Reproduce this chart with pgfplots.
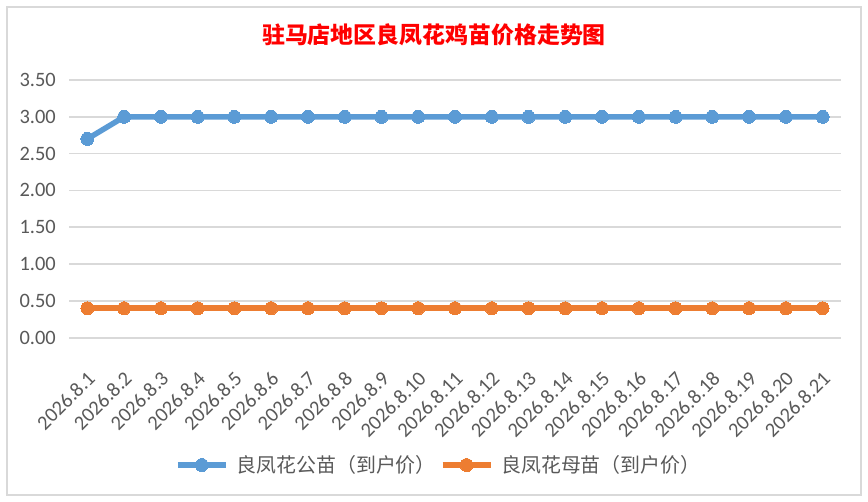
\documentclass[border=0pt]{standalone}
\usepackage{pgfplots}
\pgfplotsset{compat=1.18}
\usepackage{fontspec}
\setmainfont{Carlito}
\newfontfamily\cjk{Noto Sans CJK SC}
\definecolor{cblue}{HTML}{5B9BD5}
\definecolor{corange}{HTML}{ED7D31}
\definecolor{tgray}{HTML}{595959}
\definecolor{ggray}{HTML}{D9D9D9}
\begin{document}
\begin{tikzpicture}
\path[use as bounding box, fill=white] (0,0) rectangle (868bp,502bp);
\draw[ggray, line width=1.2bp] (7bp,7bp) rectangle (861bp,495bp);
\node[text=red, font={\cjk\bfseries\fontsize{23}{26}\selectfont}] at (434bp,467bp) {驻马店地区良凤花鸡苗价格走势图};
\begin{axis}[
  at={(69bp,164.3bp)}, anchor=south west,
  scale only axis, width=772bp, height=257.7bp,
  xmin=-0.5, xmax=20.5, ymin=0, ymax=3.5,
  ytick={0,0.5,...,3.5},
  xtick={0,...,20},
  xticklabels={2026.8.1,2026.8.2,2026.8.3,2026.8.4,2026.8.5,2026.8.6,2026.8.7,2026.8.8,2026.8.9,2026.8.10,2026.8.11,2026.8.12,2026.8.13,2026.8.14,2026.8.15,2026.8.16,2026.8.17,2026.8.18,2026.8.19,2026.8.20,2026.8.21},
  x tick label style={xshift=-1bp, yshift=-32bp, rotate=45, anchor=north east, inner sep=0bp},
  /pgf/number format/fixed, /pgf/number format/fixed zerofill, /pgf/number format/precision=2,
  /pgf/number format/assume math mode=true,
  yticklabel shift=13bp,
  y tick label style={inner sep=0bp, anchor=east},
  tick label style={font=\fontsize{20.5}{24}\selectfont, text=tgray},
  axis line style={draw=none},
  major tick length=0pt,
  ymajorgrids, grid style={ggray, line width=1.6bp},
  legend columns=2,
  legend style={at={(0.479,-0.494)}, anchor=center, draw=none, fill=none,
    font={\cjk\fontsize{20}{23}\selectfont}, text=tgray,
    /tikz/every even column/.append style={column sep=2bp},
    /tikz/every odd column/.append style={column sep=6bp}},
  legend image code/.code={\draw[mark repeat=2,mark phase=2] plot coordinates {(0bp,0bp)(24bp,0bp)(48bp,0bp)};},
]
\addplot[cblue, line width=5.5bp, mark=*, mark size=6.5bp, mark options={line width=0pt}] coordinates {
(0,2.7)(1,3)(2,3)(3,3)(4,3)(5,3)(6,3)(7,3)(8,3)(9,3)(10,3)(11,3)(12,3)(13,3)(14,3)(15,3)(16,3)(17,3)(18,3)(19,3)(20,3)};
\addlegendentry{良凤花公苗（到户价）}
\addplot[corange, line width=5.5bp, mark=*, mark size=6.5bp, mark options={line width=0pt}] coordinates {
(0,0.4)(1,0.4)(2,0.4)(3,0.4)(4,0.4)(5,0.4)(6,0.4)(7,0.4)(8,0.4)(9,0.4)(10,0.4)(11,0.4)(12,0.4)(13,0.4)(14,0.4)(15,0.4)(16,0.4)(17,0.4)(18,0.4)(19,0.4)(20,0.4)};
\addlegendentry{良凤花母苗（到户价）}
\end{axis}
\end{tikzpicture}
\end{document}
